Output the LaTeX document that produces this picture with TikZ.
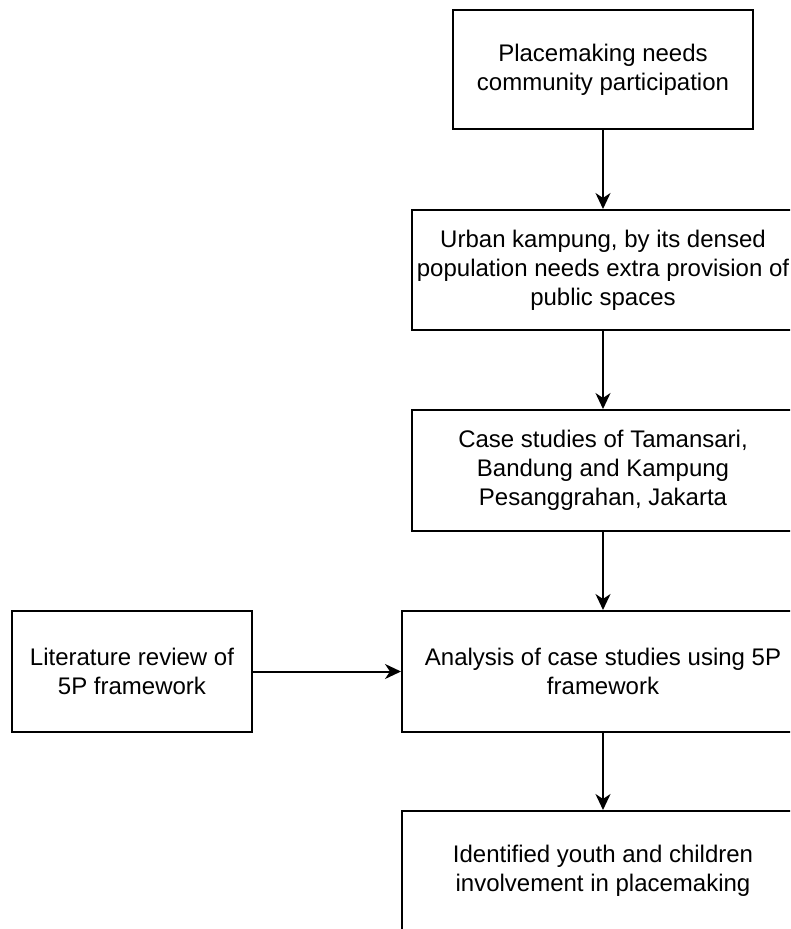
\documentclass[tikz,border=0pt]{standalone}
\usepackage{fontspec}
\setmainfont{Liberation Sans}
\usetikzlibrary{arrows.meta}
\begin{document}
\begin{tikzpicture}[x=1pt,y=-1pt,
  box/.style={draw=black, line width=2pt, rectangle, align=center, inner sep=0pt,
    font=\fontsize{24}{29}\selectfont},
  conn/.style={line width=2pt, -{Stealth[length=16pt,width=15pt,inset=5pt]}}
]
\useasboundingbox (0,0) rectangle (790,929);
\clip (0,0) rectangle (790,929);
\fill[white] (0,0) rectangle (790,929);

\node[box, minimum width=300pt, minimum height=119pt] (a) at (603,69.5)
  {Placemaking needs\\community participation};
\node[box, minimum width=382pt, minimum height=120pt] (b) at (603,270)
  {Urban kampung, by its densed\\population needs extra provision of\\public spaces};
\node[box, minimum width=382pt, minimum height=121pt] (c) at (603,470.5)
  {Case studies of Tamansari,\\Bandung and Kampung\\Pesanggrahan, Jakarta};
\node[box, minimum width=402pt, minimum height=121pt] (d) at (603,671.5)
  {Analysis of case studies using 5P\\framework};
\node[box, minimum width=240pt, minimum height=121pt] (e) at (132,671.5)
  {Literature review of\\5P framework};
\node[box, minimum width=402pt, minimum height=120pt] (f) at (603,871)
  {Identified youth and children\\involvement in placemaking};

\draw[conn] (a) -- (b);
\draw[conn] (b) -- (c);
\draw[conn] (c) -- (d);
\draw[conn] (d) -- (f);
\draw[conn] (e) -- (d);
\end{tikzpicture}
\end{document}
